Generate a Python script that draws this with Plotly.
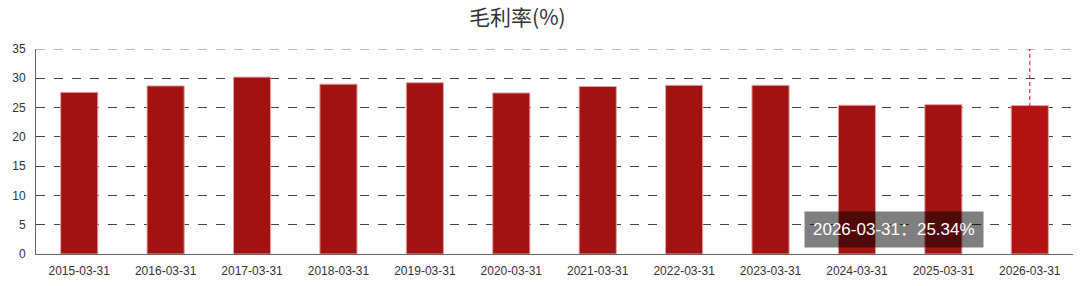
import plotly.graph_objects as go

dates = ["2015-03-31", "2016-03-31", "2017-03-31", "2018-03-31", "2019-03-31",
         "2020-03-31", "2021-03-31", "2022-03-31", "2023-03-31", "2024-03-31",
         "2025-03-31", "2026-03-31"]
gross_margin = [27.6, 28.7, 30.2, 29.0, 29.25, 27.5, 28.6, 28.8, 28.8, 25.4, 25.5, 25.34]
title_text = "毛利率(%)"
y_ticks = [0, 5, 10, 15, 20, 25, 30, 35]

colors = ["#a11212"] * (len(dates) - 1) + ["#b31212"]

fig = go.Figure()
fig.add_trace(go.Bar(
    x=dates, y=gross_margin,
    width=0.43,
    marker=dict(color=colors, line=dict(color="#e6a3a3", width=1)),
    hoverinfo="skip",
))

# top gridline (at the upper edge of the plot area)
fig.add_shape(type="line", xref="paper", yref="y",
              x0=0, x1=1, y0=y_ticks[-1], y1=y_ticks[-1],
              line=dict(color="#777", width=1, dash="dash"), layer="below")

# hover indicator line on last category
fig.add_shape(type="line", xref="x", yref="paper",
              x0=dates[-1], x1=dates[-1], y0=0, y1=1,
              line=dict(color="#d41010", width=1, dash="4px,3px"), layer="above")

# tooltip
fig.add_annotation(
    xref="paper", yref="paper", x=0.827, y=0.12,
    text=f"{dates[-1]}：{gross_margin[-1]:.2f}%",
    showarrow=False,
    font=dict(family="Liberation Sans, Noto Sans CJK SC", size=17, color="white"),
    bgcolor="rgba(0,0,0,0.5)", bordercolor="rgba(0,0,0,0)", borderpad=8,
    xanchor="center", yanchor="middle",
)

fig.update_layout(
    width=1080, height=286,
    margin=dict(l=36, r=7, t=49, b=32),
    paper_bgcolor="white", plot_bgcolor="white",
    showlegend=False,
    title=dict(text=title_text, x=0.479, xanchor="center", y=0.937, yref="container",
               yanchor="middle",
               font=dict(family="Noto Sans CJK SC", size=21, color="#333")),
    xaxis=dict(type="category", showgrid=False, showline=True, linecolor="#666",
               linewidth=1, ticks="", ticklabelstandoff=6,
               tickfont=dict(family="Liberation Sans, Arial", size=12, color="#333"),
               range=[-0.5, len(dates) - 0.5]),
    yaxis=dict(range=[0, 35], tickvals=y_ticks,
               showgrid=True, gridcolor="#444",
               griddash="dash", gridwidth=1, showline=True, linecolor="#666",
               linewidth=1, zeroline=False, ticks="", ticklabelstandoff=7,
               tickfont=dict(family="Liberation Sans, Arial", size=12, color="#333")),
    bargap=0.57,
)

fig.write_html("out.html")
